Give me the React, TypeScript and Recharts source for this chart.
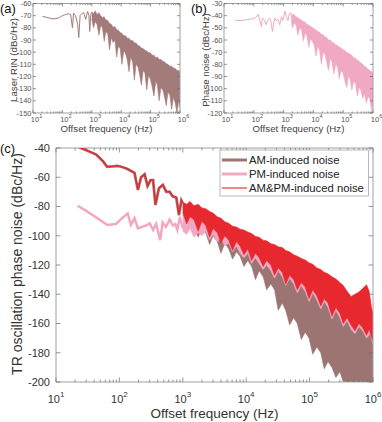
import React from 'react';
import { ComposedChart, Area, Line, XAxis, YAxis, ReferenceLine } from 'recharts';

const FONT = '"Liberation Sans", Arial, Helvetica, sans-serif';

// ---------- axis tick values ----------
const decades = [10, 100, 1000, 10000, 100000, 1000000];
const minorSteps = [2, 3, 4, 5, 6, 7, 8, 9];
const logTicks = [...decades, ...decades.slice(0, 5).flatMap((d) => minorSteps.map((m) => d * m))].sort((a, b) => a - b);
const rinTicks = [-60, -70, -80, -90, -100, -110, -120, -130, -140, -150];
const pnTicks = [-30, -40, -50, -60, -70, -80, -90, -100, -110, -120];
const trTicks = [-40, -60, -80, -100, -120, -140, -160, -180, -200];

// ---------- panel (a): laser RIN ----------
const rinLowFreq = [21, 30, 45, 60, 80, 100, 130, 160, 190, 220, 240, 280, 330, 360, 400, 470, 530, 620, 720, 800, 850, 920, 1000];
const rinLowDb = [-70.5, -71.5, -72.5, -72.5, -71.5, -70, -69, -68.5, -69, -80, -68, -70, -77, -88, -70, -68, -67.5, -73, -66.5, -70, -83, -69, -67];

const bandFreq = [1000, 1150, 1300, 1500, 1750, 2000, 2300, 2650, 3000, 3500, 4000, 4600, 5300, 6100, 7000, 8000, 9200, 10600, 12200, 14000, 16000, 18500, 21000, 24500, 28000, 32000, 37000, 42000, 48500, 56000, 64000, 74000, 85000, 98000, 112000, 130000, 150000, 170000, 195000, 225000, 260000, 300000, 340000, 390000, 450000, 520000, 600000, 690000, 790000, 900000, 1000000];

const rinHi = [-67, -68.5, -66, -69, -67.5, -70, -71.5, -71, -73.5, -74, -76.5, -77, -79.5, -79, -81.5, -82, -84, -84.5, -86.5, -86.5, -88.5, -88.5, -90.5, -90.5, -92.5, -92.5, -94.5, -95, -96.5, -97, -98.5, -99, -100.5, -100.5, -102.5, -102.5, -104.5, -104, -106, -106, -107.5, -108, -109.5, -110, -111.5, -111.5, -113, -113.5, -115, -115, -116];
const rinLo = [-73, -80, -75, -77, -86, -78, -80, -91, -83, -85, -98, -88, -92, -90, -104, -95, -97, -110, -99, -101, -106, -116, -104, -108, -123, -110, -112, -118, -127, -115, -117, -131, -119, -122, -128, -136, -124, -127, -140, -129, -131, -137, -144, -133, -135, -147, -137, -142, -150, -140, -146];

// ---------- panel (b): laser phase noise ----------
const pnLowFreq = [24, 40, 70, 100, 120, 140, 160, 180, 195, 230, 260, 300, 340, 380, 420, 500, 560, 640, 740, 850, 950, 1100, 1250, 1400, 1600, 1800];
const pnLowDb = [-44, -44, -43, -42.5, -41, -39, -44, -49, -42, -44, -47.5, -43, -42, -45, -53, -42, -44, -43, -47.5, -41, -44, -36.5, -41, -44, -38, -38];

const pnBandFreq = [1800, 2000, 2300, 2650, 3000, 3500, 4000, 4600, 5300, 6100, 7000, 8000, 9200, 10600, 12200, 14000, 16000, 18500, 21000, 24500, 28000, 32000, 37000, 42000, 48500, 56000, 64000, 74000, 85000, 98000, 112000, 130000, 150000, 170000, 195000, 225000, 260000, 300000, 340000, 390000, 450000, 520000, 600000, 690000, 790000, 900000, 1000000];
const pnHi = [-38, -39, -39.5, -41, -41.5, -43, -43.5, -45, -45.5, -47.5, -47.5, -49, -49.5, -51, -51.5, -53, -53.5, -55.5, -55.5, -57.5, -58, -60, -60, -62, -62.5, -64, -64.5, -66, -66.5, -68, -68.5, -70.5, -70.5, -72, -72.5, -74.5, -75, -76.5, -77.5, -79, -80, -81.5, -82.5, -84, -85, -86, -87];
const pnLo = [-44, -50, -46, -48, -56, -50, -52, -61, -54, -57, -66, -59, -61, -64, -73, -65, -68, -80, -70, -72, -78, -85, -75, -78, -88, -80, -82, -92, -85, -87, -93, -99, -90, -92, -101, -94, -96, -106, -99, -101, -108, -104, -112, -106, -109, -118, -110];

// ---------- panel (c): TR oscillation phase noise ----------
const amLowFreq = [23, 30, 43, 55, 64, 80, 93, 110, 129, 150, 173, 196, 220, 250, 278, 310, 340, 370, 420, 485, 550, 620, 690, 790, 870, 950, 1000];
const amLowDb = [-39.5, -41.5, -44.5, -49, -52.8, -52.5, -52.2, -53, -54, -55.5, -57, -68.7, -60, -58, -66, -62, -62, -79, -67.6, -65.3, -70, -70, -73, -74, -86, -76, -78];
const totalLowDb = [-39.4, -41.4, -44.4, -48.9, -52.7, -52.4, -52.1, -52.9, -53.9, -55.4, -56.9, -68.5, -59.9, -57.9, -65.8, -61.8, -61.8, -78.6, -67.4, -65.1, -69.8, -69.7, -72.7, -73.7, -85.2, -75.6, -77.3];

const pmLowFreq = [22, 30, 45, 65, 88, 110, 135, 152, 173, 196, 233, 265, 300, 340, 380, 440, 480, 540, 620, 700, 760, 820, 900, 1000];
const pmLowDb = [-79.5, -83, -88, -92.6, -92, -88, -84.7, -92.6, -88, -95, -93.8, -93, -91.5, -96, -92, -103, -91, -94, -89, -93, -92, -96, -87, -95];

const amHi = [-78, -79, -80, -82, -83, -84, -86, -87, -89, -90, -92, -93, -95, -96, -98, -99, -101, -102, -104, -106, -107, -109, -110, -112, -114, -116, -118, -120, -122, -124, -126, -128, -130, -132, -134, -136, -138, -140, -142, -144, -146, -148, -150, -152, -154, -156, -158, -160, -162, -164, -166];
const amLo = [-86, -96, -90, -94, -101, -95, -98, -106, -100, -104, -112, -105, -109, -116, -111, -114, -121, -117, -121, -130, -124, -128, -137, -133, -137, -151, -146, -151, -161, -156, -160, -171, -166, -170, -181, -176, -180, -191, -186, -190, -197, -193, -200, -200, -200, -200, -200, -200, -200, -200, -200];

const pmHi = [-84, -86, -85, -88, -87, -89, -89.5, -91, -91.5, -93, -94, -95.5, -96, -97.5, -98, -99, -100, -101, -102, -104, -104.5, -106, -106.5, -108, -108.5, -110, -110.5, -112, -113, -115, -116, -117.5, -118.5, -120.5, -121.5, -124, -125, -127, -128, -130, -131.5, -134, -136, -140, -143.5, -142, -140.5, -138, -135.5, -142, -155];
const pmLo = [-97, -99, -95, -101, -98, -100, -97, -103, -99, -104, -102, -107, -105, -111, -107, -112, -115, -112, -119, -115, -119, -123, -120, -124, -129, -124, -128, -134, -129, -133, -139, -134, -138, -145, -139, -144, -150, -145, -149, -157, -151, -156, -162, -158, -164, -167, -162, -165, -170, -167, -174];

const totalBandFreq = [1000, 1150, 1300, 1500, 1750, 2000, 2300, 2650, 3000, 3500, 4000, 4600, 5300, 6100, 7000, 8000, 9200, 10600, 12200, 14000, 16000, 18500, 21000, 24500, 28000, 32000, 37000, 42000, 48500, 56000, 64000, 74000, 85000, 98000, 112000, 130000, 150000, 170000, 195000, 225000, 260000, 300000, 340000, 390000, 450000, 520000, 600000, 690000, 790000, 870000, 940000, 1000000];
const totalHi = [-77, -78.5, -76.5, -79.5, -78.5, -81, -81.5, -83.5, -84.5, -87, -88, -90.5, -91.5, -93.5, -94, -95.5, -96, -97.5, -98.5, -100.5, -101, -103, -103.5, -105.5, -106, -107.5, -108, -110, -111, -113, -114, -115.5, -116.5, -118.5, -119.5, -122, -123, -125, -126, -128, -129.5, -132, -134, -138, -141.5, -140, -138.5, -136, -133.5, -138, -149, -153];
const totalLo = [-84, -92, -87, -89, -97, -90, -93, -101, -95, -98, -105, -100, -103, -110, -104, -107, -113, -109, -117, -112, -115, -121, -117, -120, -127, -122, -125, -133, -127, -130, -137, -132, -135, -143, -137, -141, -148, -143, -146, -155, -149, -153, -160, -156, -161, -165, -160, -163, -168, -164, -169, -172];

// ---------- colours ----------
const RIN_BROWN = '#a27b7a';
const PN_PINK = '#f1a8c2';
const AM_BROWN = '#9c7573';
const PM_PINK = '#f2a8c2';
const TOTAL_RED = '#e8282f';
const AXIS = '#a0a0a0';
const TICK = '#6a6a6a';

const toLine = (f: number[], db: number[]) => f.map((x, i) => ({ f: x, v: db[i] }));
const toBand = (f: number[], lo: number[], hi: number[]) => f.map((x, i) => ({ f: x, v: [lo[i], hi[i]] }));

const isDecade = (v: number) => Math.abs(Math.log10(v) - Math.round(Math.log10(v))) < 1e-6;

type TickCfg = {
  top: number; right: number; major: number; minor: number; dx: number;
  font: number; sup: number; supDy: number; labelDy: number; gap: number; color: string;
};

const makeXTick = (c: TickCfg) => (props: any) => {
  const { x, y, payload } = props;
  const v = payload.value as number;
  const major = isDecade(v);
  const len = major ? c.major : c.minor;
  return (
    <g>
      <line x1={x} x2={x} y1={y} y2={y - len} stroke={TICK} strokeWidth={0.7} />
      <line x1={x} x2={x} y1={c.top} y2={c.top + len} stroke={TICK} strokeWidth={0.7} />
      {major && (
        <text x={x + c.dx} y={y + c.labelDy} textAnchor="middle" fontSize={c.font} fill={c.color} fontFamily={FONT}>
          <tspan>10</tspan>
          <tspan dy={-c.supDy} fontSize={c.sup}>{Math.round(Math.log10(v))}</tspan>
        </text>
      )}
    </g>
  );
};

const makeYTick = (c: TickCfg) => (props: any) => {
  const { x, y, payload } = props;
  return (
    <g>
      <line x1={x} x2={x + c.major} y1={y} y2={y} stroke={TICK} strokeWidth={0.7} />
      <line x1={c.right} x2={c.right - c.major} y1={y} y2={y} stroke={TICK} strokeWidth={0.7} />
      <text x={x - c.gap} y={y} dy="0.35em" textAnchor="end" fontSize={c.font} fill={c.color} fontFamily={FONT}>
        {payload.value}
      </text>
    </g>
  );
};

const smallA: TickCfg = { top: 3.5, right: 180, major: 3, minor: 1.6, dx: 3.5, font: 7.5, sup: 5.5, supDy: 3.5, labelDy: 8.5, gap: 1.5, color: '#555' };
const smallB: TickCfg = { ...smallA, right: 182 };
const bigC: TickCfg = { top: 8, right: 373, major: 4.5, minor: 2.5, dx: 0, font: 11, sup: 8, supDy: 6, labelDy: 20.5, gap: 6, color: '#333' };

const rinLine = toLine(rinLowFreq, rinLowDb);
const rinBand = toBand(bandFreq, rinLo, rinHi);
const pnLine = toLine(pnLowFreq, pnLowDb);
const pnBand = toBand(pnBandFreq, pnLo, pnHi);
const amLine = toLine(amLowFreq, amLowDb);
const amBand = toBand(bandFreq, amLo, amHi);
const pmLine = toLine(pmLowFreq, pmLowDb);
const pmBand = toBand(bandFreq, pmLo, pmHi);
const totalLine = toLine(amLowFreq, totalLowDb);
const totalBand = toBand(totalBandFreq, totalLo, totalHi);

const xAxisCommon = {
  dataKey: 'f', type: 'number' as const, scale: 'log' as const, domain: [10, 1000000], ticks: logTicks,
  interval: 0, allowDataOverflow: true, tickLine: false, tickSize: 0, tickMargin: 0,
  axisLine: { stroke: AXIS },
};

export default function App() {
  return (
    <div style={{ position: 'absolute', left: 0, top: 0, width: 382, height: 422, background: '#fff', fontFamily: FONT }}>
      {/* (a) */}
      <div style={{ position: 'absolute', left: 0, top: 0 }}>
        <ComposedChart width={191} height={140} margin={{ top: 3.5, right: 11, bottom: 0, left: 0 }}>
          <XAxis {...xAxisCommon} height={27} tick={makeXTick(smallA)} />
          <YAxis type="number" domain={[-150, -60]} ticks={rinTicks} interval={0} allowDataOverflow width={33}
            axisLine={{ stroke: AXIS }} tickLine={false} tickSize={0} tickMargin={0} tick={makeYTick(smallA)} />
          <ReferenceLine y={-60} stroke={AXIS} />
          <ReferenceLine x={1000000} stroke={AXIS} />
          <Area data={rinBand} dataKey="v" type="linear" stroke={RIN_BROWN} strokeWidth={0.6} fill={RIN_BROWN} fillOpacity={1} dot={false} activeDot={false} isAnimationActive={false} />
          <Line data={rinLine} dataKey="v" type="linear" stroke={RIN_BROWN} strokeWidth={1} dot={false} activeDot={false} isAnimationActive={false} />
        </ComposedChart>
      </div>
      {/* (b) */}
      <div style={{ position: 'absolute', left: 191, top: 0 }}>
        <ComposedChart width={191} height={140} margin={{ top: 3.5, right: 9, bottom: 0, left: 0 }}>
          <XAxis {...xAxisCommon} height={27} tick={makeXTick(smallB)} />
          <YAxis type="number" domain={[-120, -30]} ticks={pnTicks} interval={0} allowDataOverflow width={33}
            axisLine={{ stroke: AXIS }} tickLine={false} tickSize={0} tickMargin={0} tick={makeYTick(smallB)} />
          <ReferenceLine y={-30} stroke={AXIS} />
          <ReferenceLine x={1000000} stroke={AXIS} />
          <Area data={pnBand} dataKey="v" type="linear" stroke={PN_PINK} strokeWidth={0.6} fill={PN_PINK} fillOpacity={1} dot={false} activeDot={false} isAnimationActive={false} />
          <Line data={pnLine} dataKey="v" type="linear" stroke={PN_PINK} strokeWidth={1} dot={false} activeDot={false} isAnimationActive={false} />
        </ComposedChart>
      </div>
      {/* (c) */}
      <div style={{ position: 'absolute', left: 0, top: 140 }}>
        <ComposedChart width={382} height={282} margin={{ top: 8, right: 9, bottom: 0, left: 0 }}>
          <XAxis {...xAxisCommon} height={40} tick={makeXTick(bigC)} />
          <YAxis type="number" domain={[-200, -40]} ticks={trTicks} interval={0} allowDataOverflow width={56}
            axisLine={{ stroke: AXIS }} tickLine={false} tickSize={0} tickMargin={0} tick={makeYTick(bigC)} />
          <ReferenceLine y={-40} stroke={AXIS} />
          <ReferenceLine x={1000000} stroke={AXIS} />
          <Area data={amBand} dataKey="v" type="linear" stroke={AM_BROWN} strokeWidth={0.6} fill={AM_BROWN} fillOpacity={1} dot={false} activeDot={false} isAnimationActive={false} />
          <Line data={amLine} dataKey="v" type="linear" stroke={AM_BROWN} strokeWidth={2.8} dot={false} activeDot={false} isAnimationActive={false} />
          <Area data={pmBand} dataKey="v" type="linear" stroke={PM_PINK} strokeWidth={0.6} fill={PM_PINK} fillOpacity={1} dot={false} activeDot={false} isAnimationActive={false} />
          <Line data={pmLine} dataKey="v" type="linear" stroke={PM_PINK} strokeWidth={2.5} dot={false} activeDot={false} isAnimationActive={false} />
          <Area data={totalBand} dataKey="v" type="linear" stroke={TOTAL_RED} strokeWidth={0.6} fill={TOTAL_RED} fillOpacity={1} dot={false} activeDot={false} isAnimationActive={false} />
          <Line data={totalLine} dataKey="v" type="linear" stroke={TOTAL_RED} strokeWidth={1.4} dot={false} activeDot={false} isAnimationActive={false} />
        </ComposedChart>
      </div>
      {/* titles, panel labels, legend */}
      <svg width={382} height={422} style={{ position: 'absolute', left: 0, top: 0, pointerEvents: 'none' }} fontFamily={FONT}>
        <text x={0} y={12.5} fontSize={13} fill="#111">(a)</text>
        <text x={191} y={12.5} fontSize={13} fill="#111">(b)</text>
        <text x={0} y={152.5} fontSize={13} fill="#111">(c)</text>

        <text x={106.5} y={132} fontSize={9.7} fill="#444" textAnchor="middle">Offset frequency (Hz)</text>
        <text x={298.5} y={132} fontSize={9.7} fill="#444" textAnchor="middle">Offset frequency (Hz)</text>
        <text x={17} y={60} fontSize={9.7} fill="#444" textAnchor="middle" transform="rotate(-90 17 60)">Laser RIN (dBc/Hz)</text>
        <text x={209} y={60} fontSize={9.7} fill="#444" textAnchor="middle" transform="rotate(-90 209 60)">Phase noise (dBc/Hz)</text>

        <text x={214.5} y={418} fontSize={13.5} fill="#333" textAnchor="middle">Offset frequency (Hz)</text>
        <text x={22} y={264} fontSize={14} fill="#333" textAnchor="middle" transform="rotate(-90 22 264)">TR oscillation phase noise (dBc/Hz)</text>

        <rect x={220} y={150} width={148.5} height={46} fill="#fff" stroke="#a8a8a8" strokeWidth={0.8} />
        <line x1={222} x2={247} y1={160} y2={160} stroke={AM_BROWN} strokeWidth={3} />
        <line x1={222} x2={247} y1={174} y2={174} stroke={PM_PINK} strokeWidth={3} />
        <line x1={222} x2={247} y1={188} y2={188} stroke="#f08686" strokeWidth={2} />
        <text x={249} y={164} fontSize={11.3} fill="#222">AM-induced noise</text>
        <text x={249} y={178} fontSize={11.3} fill="#222">PM-induced noise</text>
        <text x={249} y={192} fontSize={11.3} fill="#222">AM&amp;PM-induced noise</text>
      </svg>
    </div>
  );
}
